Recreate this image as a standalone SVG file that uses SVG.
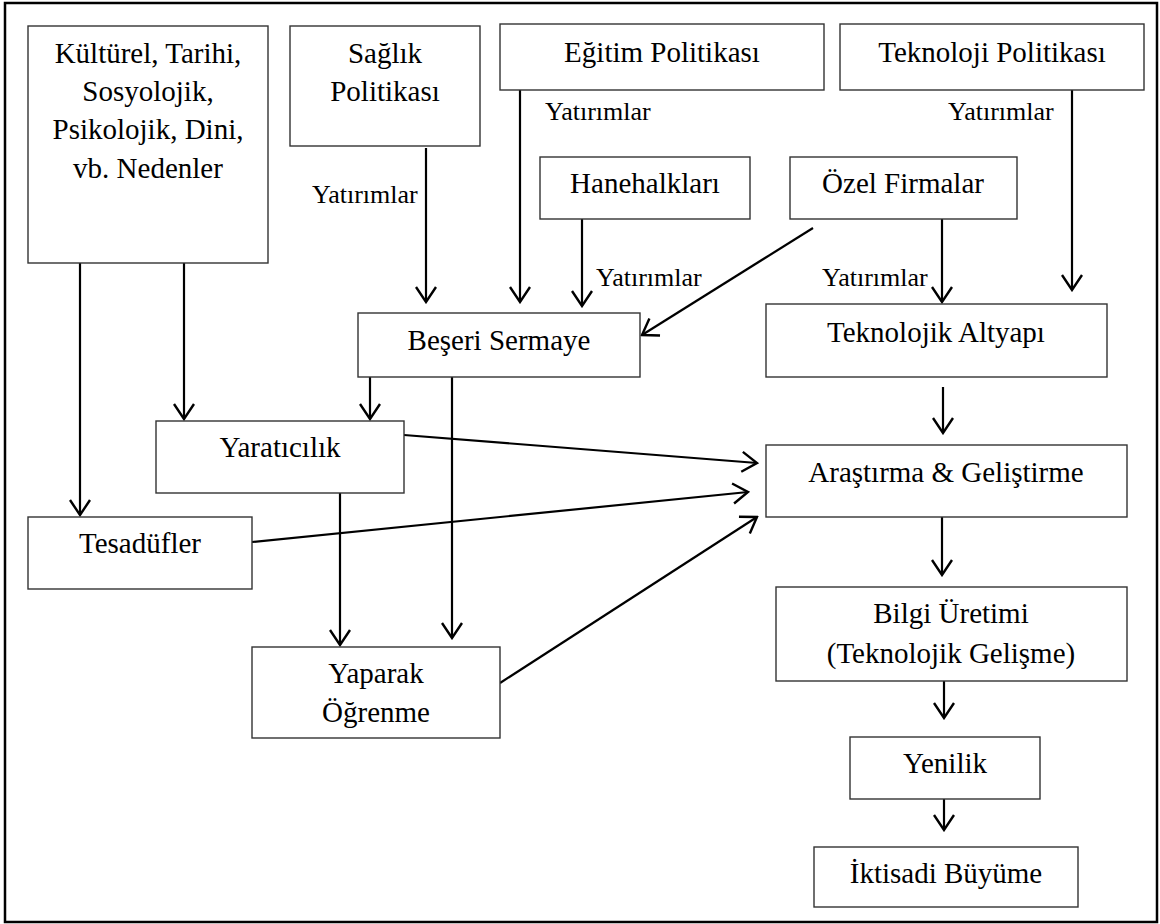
<svg xmlns="http://www.w3.org/2000/svg" width="1160" height="924" viewBox="0 0 1160 924">
<style>
.box{fill:#fff;stroke:#333;stroke-width:1.4}
.t{font-family:"Liberation Serif","Times New Roman",serif;font-size:29px;fill:#000;text-anchor:middle}
.lbl{font-family:"Liberation Serif","Times New Roman",serif;font-size:26px;fill:#000}
.c{stroke:#000;stroke-width:2.2;fill:none;marker-end:url(#v)}
</style>
<defs>
<marker id="v" viewBox="-17 -12 19 24" refX="0" refY="0" markerWidth="19" markerHeight="24" markerUnits="userSpaceOnUse" orient="auto">
<path d="M-15,-10 L0,0 L-15,10" fill="none" stroke="#000" stroke-width="2.4"/>
</marker>
</defs>
<rect x="5" y="3" width="1152" height="919" fill="#fff" stroke="#000" stroke-width="2.5"/>
<g id="connectors">
<line class="c" x1="80" y1="263" x2="80" y2="515"/>
<line class="c" x1="184" y1="263" x2="184" y2="419"/>
<line class="c" x1="426" y1="148" x2="426" y2="302"/>
<line class="c" x1="520" y1="90" x2="520" y2="302"/>
<line class="c" x1="582" y1="219" x2="582" y2="306"/>
<line class="c" x1="813" y1="228" x2="642" y2="335"/>
<line class="c" x1="942" y1="219" x2="942" y2="302"/>
<line class="c" x1="1072" y1="90" x2="1072" y2="290"/>
<line class="c" x1="370" y1="377" x2="370" y2="419"/>
<line class="c" x1="452" y1="377" x2="452" y2="638"/>
<line class="c" x1="340" y1="493" x2="340" y2="645"/>
<line class="c" x1="404" y1="435" x2="757" y2="463"/>
<line class="c" x1="252" y1="542" x2="748" y2="492"/>
<line class="c" x1="500" y1="683" x2="757" y2="517"/>
<line class="c" x1="943" y1="387" x2="943" y2="433"/>
<line class="c" x1="942" y1="517" x2="942" y2="575"/>
<line class="c" x1="944" y1="681" x2="944" y2="718"/>
<line class="c" x1="944" y1="799" x2="944" y2="830"/>
</g>
<g id="labels">
<text class="lbl" x="312" y="203">Yatırımlar</text>
<text class="lbl" x="545" y="120">Yatırımlar</text>
<text class="lbl" x="596" y="286">Yatırımlar</text>
<text class="lbl" x="822" y="286">Yatırımlar</text>
<text class="lbl" x="948" y="120">Yatırımlar</text>
</g>
<g id="kulturel">
<rect class="box" x="28" y="26" width="240" height="237"/>
<text class="t" x="148" y="63">Kültürel, Tarihi,</text>
<text class="t" x="148" y="101">Sosyolojik,</text>
<text class="t" x="148" y="139">Psikolojik, Dini,</text>
<text class="t" x="148" y="178">vb. Nedenler</text>
</g>
<g id="saglik">
<rect class="box" x="290" y="26" width="190" height="120"/>
<text class="t" x="385" y="63">Sağlık</text>
<text class="t" x="385" y="101">Politikası</text>
</g>
<g id="egitim">
<rect class="box" x="500" y="24" width="324" height="66"/>
<text class="t" x="662" y="62">Eğitim Politikası</text>
</g>
<g id="teknoloji">
<rect class="box" x="840" y="24" width="304" height="66"/>
<text class="t" x="992" y="62">Teknoloji Politikası</text>
</g>
<g id="hanehalklari">
<rect class="box" x="540" y="157" width="210" height="62"/>
<text class="t" x="645" y="193">Hanehalkları</text>
</g>
<g id="ozel">
<rect class="box" x="790" y="157" width="227" height="62"/>
<text class="t" x="903" y="193">Özel Firmalar</text>
</g>
<g id="beseri">
<rect class="box" x="358" y="313" width="282" height="64"/>
<text class="t" x="499" y="350">Beşeri Sermaye</text>
</g>
<g id="altyapi">
<rect class="box" x="766" y="304" width="341" height="73"/>
<text class="t" x="936" y="342">Teknolojik Altyapı</text>
</g>
<g id="yaraticilik">
<rect class="box" x="156" y="421" width="248" height="72"/>
<text class="t" x="280" y="457">Yaratıcılık</text>
</g>
<g id="arge">
<rect class="box" x="766" y="445" width="361" height="72"/>
<text class="t" x="946" y="482">Araştırma &amp; Geliştirme</text>
</g>
<g id="tesadufler">
<rect class="box" x="28" y="517" width="224" height="72"/>
<text class="t" x="140" y="553">Tesadüfler</text>
</g>
<g id="bilgi">
<rect class="box" x="776" y="587" width="351" height="94"/>
<text class="t" x="951" y="623">Bilgi Üretimi</text>
<text class="t" x="951" y="663">(Teknolojik Gelişme)</text>
</g>
<g id="yaparak">
<rect class="box" x="252" y="647" width="248" height="91"/>
<text class="t" x="376" y="683">Yaparak</text>
<text class="t" x="376" y="722">Öğrenme</text>
</g>
<g id="yenilik">
<rect class="box" x="850" y="737" width="190" height="62"/>
<text class="t" x="945" y="773">Yenilik</text>
</g>
<g id="buyume">
<rect class="box" x="814" y="847" width="264" height="60"/>
<text class="t" x="946" y="883">İktisadi Büyüme</text>
</g>
</svg>
